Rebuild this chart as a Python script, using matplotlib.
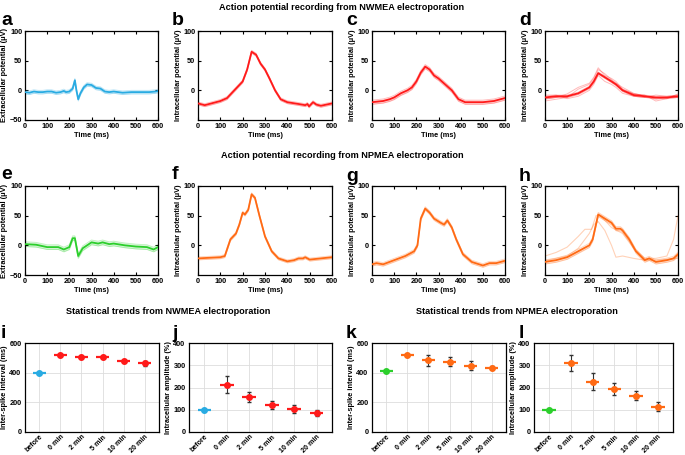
import matplotlib
matplotlib.use('Agg')
import matplotlib.pyplot as plt

plt.rcParams['font.family'] = ['Liberation Sans', 'DejaVu Sans']
plt.rcParams['font.weight'] = 'bold'
plt.rcParams['axes.labelweight'] = 'bold'

# ---- trace data (time in ms, potential in uV) ----
t_a = [0, 20, 40, 60, 80, 100, 120, 140, 160, 175, 185, 200, 215, 225, 232, 240, 250, 265, 280, 300,
       320, 340, 360, 380, 400, 440, 480, 520, 560, 590, 600]
v_a = [-3, -4, -2, -3, -3, -2, -2, -4, -3, -1, -3, -2, 3, 17, 0, -15, -5, 5, 10, 9,
       4, 3, -2, -3, -2, -4, -3, -3, -3, -2, -1]

t_b = [0, 30, 60, 100, 130, 150, 175, 200, 220, 240, 260, 280, 300, 320, 345, 370, 400, 450, 480,
       490, 497, 515, 530, 550, 600]
v_b = [-22, -25, -22, -18, -13, -5, 5, 15, 35, 65, 60, 45, 35, 20, 0, -15, -20, -23, -25,
       -23, -27, -20, -24, -26, -22]

t_c = [0, 50, 80, 100, 130, 160, 180, 200, 220, 240, 260, 280, 300, 330, 360, 390, 420, 460, 500, 550, 600]
v_c = [-20, -18, -15, -12, -5, 0, 5, 15, 30, 40, 35, 25, 20, 10, 0, -15, -20, -20, -20, -18, -13]

t_d = [0, 50, 100, 150, 200, 220, 240, 270, 300, 320, 350, 400, 450, 500, 550, 600]
v_d = [-12, -10, -10, -5, 5, 15, 29, 22, 15, 10, 0, -8, -10, -12, -12, -10]
# single recordings around the mean in panel d
v_d2 = [-18, -15, -12, 2, 10, 20, 35, 28, 18, 12, 5, -5, -10, -15, -12, -12]
v_d3 = [-8, -8, -14, -10, 0, 10, 25, 15, 10, 5, -5, -10, -12, -8, -10, -8]
v_d4 = [-15, -12, -6, 5, 12, 22, 38, 25, 20, 15, 2, -6, -8, -18, -14, -6]

t_e = [0, 50, 100, 150, 175, 200, 215, 225, 240, 260, 280, 300, 330, 350, 380, 400, 450, 500, 550, 580, 600]
v_e = [2, 1, -3, -3, -7, -3, 12, 12, -18, -5, 0, 5, 3, 5, 2, 3, 0, -2, -3, -7, -3]

t_f = [0, 100, 120, 145, 170, 185, 200, 210, 225, 240, 255, 275, 300, 330, 360, 400, 430, 450, 470,
       480, 500, 550, 600]
v_f = [-22, -20, -18, 10, 20, 35, 55, 52, 60, 86, 80, 50, 15, -10, -22, -27, -25, -22, -22,
       -20, -24, -22, -20]

t_g = [0, 20, 50, 100, 150, 190, 205, 220, 240, 260, 280, 310, 325, 340, 360, 380, 410, 450, 500, 530, 560, 600]
v_g = [-32, -30, -32, -25, -18, -10, 0, 45, 62, 55, 45, 38, 35, 42, 30, 10, -15, -28, -34, -30, -30, -26]

t_h = [0, 50, 100, 150, 200, 215, 240, 270, 300, 320, 340, 350, 380, 410, 450, 470, 500, 550, 580, 600]
v_h = [-28, -25, -20, -10, 0, 10, 52, 45, 38, 28, 28, 25, 10, -10, -25, -22, -28, -25, -22, -15]
# outlier traces in panel h
t_h2 = [0, 50, 100, 150, 180, 210, 230, 250, 300, 350, 400, 450, 500, 550, 580, 600]
v_h2 = [-18, -12, -3, 15, 27, 27, 50, 50, 30, 20, -5, -22, -22, -18, 10, 50]
t_h3 = [0, 100, 150, 200, 220, 240, 270, 300, 320, 350, 400, 450, 500, 600]
v_h3 = [-26, -18, -5, 20, 35, 40, 25, 0, -20, -18, -22, -25, -25, -22]

# ---- statistics ----
conds = ['before', '0 min', '2 min', '5 min', '10 min', '20 min']
isi_nw = [400, 520, 505, 505, 480, 462]
isi_nw_err = [5, 8, 8, 8, 8, 15]
amp_nw = [100, 212, 157, 123, 105, 86]
amp_nw_err = [3, 38, 22, 18, 18, 14]
isi_np = [408, 518, 483, 475, 446, 432]
isi_np_err = [5, 8, 35, 30, 30, 10]
amp_np = [100, 310, 226, 192, 163, 113]
amp_np_err = [3, 38, 37, 27, 20, 20]

BLUE = '#29abe2'
RED = '#ff1a1a'
GREEN = '#2ccf2c'
ORANGE = '#ff6a14'

W, H = 685, 455
fig = plt.figure(figsize=(W / 100, H / 100), dpi=100)
FS = 5.3


def ax_at(l, t, r, b):
    return fig.add_axes([l / W, 1 - b / H, (r - l) / W, (b - t) / H])


def letter(x, y, s):
    # x, y in pixels from the top-left corner (baseline)
    fig.text(x / W, 1 - y / H, s, fontsize=14, fontweight='bold', va='baseline', ha='left')


def trace_panel(box, t, v, color, spread, ylab, extra_ticks):
    ax = ax_at(*box)
    lo = [x - spread for x in v]
    hi = [x + spread for x in v]
    ax.fill_between(t, lo, hi, color=color, alpha=0.2, lw=0)
    ax.plot(t, lo, color=color, alpha=0.3, lw=0.6)
    ax.plot(t, hi, color=color, alpha=0.3, lw=0.6)
    ax.plot(t, v, color=color, lw=1.3, zorder=5)
    ax.set_xlim(0, 600)
    ax.set_ylim(-50, 100)
    ax.set_xticks(range(0, 601, 100))
    ax.set_yticks([-50, 0, 50, 100] if extra_ticks else [0, 50, 100])
    ax.tick_params(direction='in', top=True, right=True, labelsize=FS, length=2.5, width=0.8, pad=2)
    for s in ax.spines.values():
        s.set_linewidth(0.9)
    ax.set_xlabel('Time (ms)', fontsize=FS, labelpad=1.5)
    ax.set_ylabel(ylab, fontsize=FS, labelpad=1)
    return ax


def stat_panel(box, vals, errs, c0, c1, ylim, yticks, ylab):
    ax = ax_at(*box)
    x = list(range(len(conds)))
    for i in x:
        col = c0 if i == 0 else c1
        ax.errorbar(i, vals[i], yerr=errs[i], fmt='none', ecolor='#333333', elinewidth=0.8, capsize=1.2, zorder=3)
        ax.hlines(vals[i], i - 0.31, i + 0.31, color=col, lw=1.6, zorder=4)
        ax.plot(i, vals[i], 'o', color=col, ms=4, zorder=5)
    ax.set_xlim(-0.69, len(conds) - 0.31)
    ax.set_ylim(*ylim)
    ax.set_yticks(yticks)
    ax.set_xticks(x)
    ax.set_xticklabels(conds, rotation=45, ha='right', rotation_mode='anchor', fontsize=5.1)
    ax.grid(True, color='#dddddd', lw=0.6)
    ax.set_axisbelow(True)
    ax.tick_params(axis='y', direction='in', labelsize=FS, length=0, pad=2.5)
    ax.tick_params(axis='x', direction='in', length=0, pad=1.2)
    for s in ax.spines.values():
        s.set_linewidth(0.9)
    ax.set_ylabel(ylab, fontsize=FS, labelpad=1)
    return ax


# row titles
TFS = 6.6
fig.text(342 / W, 1 - 7 / H, 'Action potential recording from NWMEA electroporation',
         ha='center', va='center', fontsize=TFS, fontweight='bold')
fig.text(342 / W, 1 - 156 / H, 'Action potential recording from NPMEA electroporation',
         ha='center', va='center', fontsize=TFS, fontweight='bold')
fig.text(168 / W, 1 - 311 / H, 'Statistical trends from NWMEA electroporation',
         ha='center', va='center', fontsize=TFS, fontweight='bold')
fig.text(517 / W, 1 - 311 / H, 'Statistical trends from NPMEA electroporation',
         ha='center', va='center', fontsize=TFS, fontweight='bold')

ext = 'Extracellular potential (μV)'
intra = 'Intracellular potential (μV)'

trace_panel((25, 31, 158, 120), t_a, v_a, BLUE, 3, ext, True)
trace_panel((198, 31, 332, 120), t_b, v_b, RED, 2.5, intra, False)
trace_panel((372, 31, 505, 120), t_c, v_c, RED, 3.5, intra, False)
ax_d = trace_panel((545, 31, 678, 120), t_d, v_d, RED, 2, intra, False)
for vv in (v_d2, v_d3, v_d4):
    ax_d.plot(t_d, vv, color=RED, alpha=0.3, lw=0.7)

trace_panel((25, 186, 158, 275), t_e, v_e, GREEN, 4, ext, True)
trace_panel((198, 186, 332, 275), t_f, v_f, ORANGE, 2.5, intra, False)
trace_panel((372, 186, 505, 275), t_g, v_g, ORANGE, 3, intra, False)
ax_h = trace_panel((545, 186, 678, 275), t_h, v_h, ORANGE, 3.5, intra, False)
ax_h.plot(t_h2, v_h2, color=ORANGE, alpha=0.3, lw=0.8)
ax_h.plot(t_h3, v_h3, color=ORANGE, alpha=0.3, lw=0.8)

stat_panel((25, 343, 159, 432), isi_nw, isi_nw_err, BLUE, RED, (0, 600), [0, 200, 400, 600],
           'Inter-spike interval (ms)')
stat_panel((189, 343, 332, 432), amp_nw, amp_nw_err, BLUE, RED, (0, 400), [0, 100, 200, 300, 400],
           'Intracellular amplitude (%)')
stat_panel((372, 343, 506, 432), isi_np, isi_np_err, GREEN, ORANGE, (0, 600), [0, 200, 400, 600],
           'Inter-spike interval (ms)')
stat_panel((534, 343, 673, 432), amp_np, amp_np_err, GREEN, ORANGE, (0, 400), [0, 100, 200, 300, 400],
           'Intracellular amplitude (%)')

# panel letters
for (x, y, s) in [(1, 25, 'a'), (172, 25, 'b'), (346, 25, 'c'), (519, 25, 'd'),
                  (1, 179, 'e'), (172, 179, 'f'), (346, 181, 'g'), (519, 181, 'h'),
                  (1, 338, 'i'), (172, 338, 'j'), (346, 338, 'k'), (519, 338, 'l')]:
    letter(x, y, s)

fig.savefig('out.png', dpi=100)
